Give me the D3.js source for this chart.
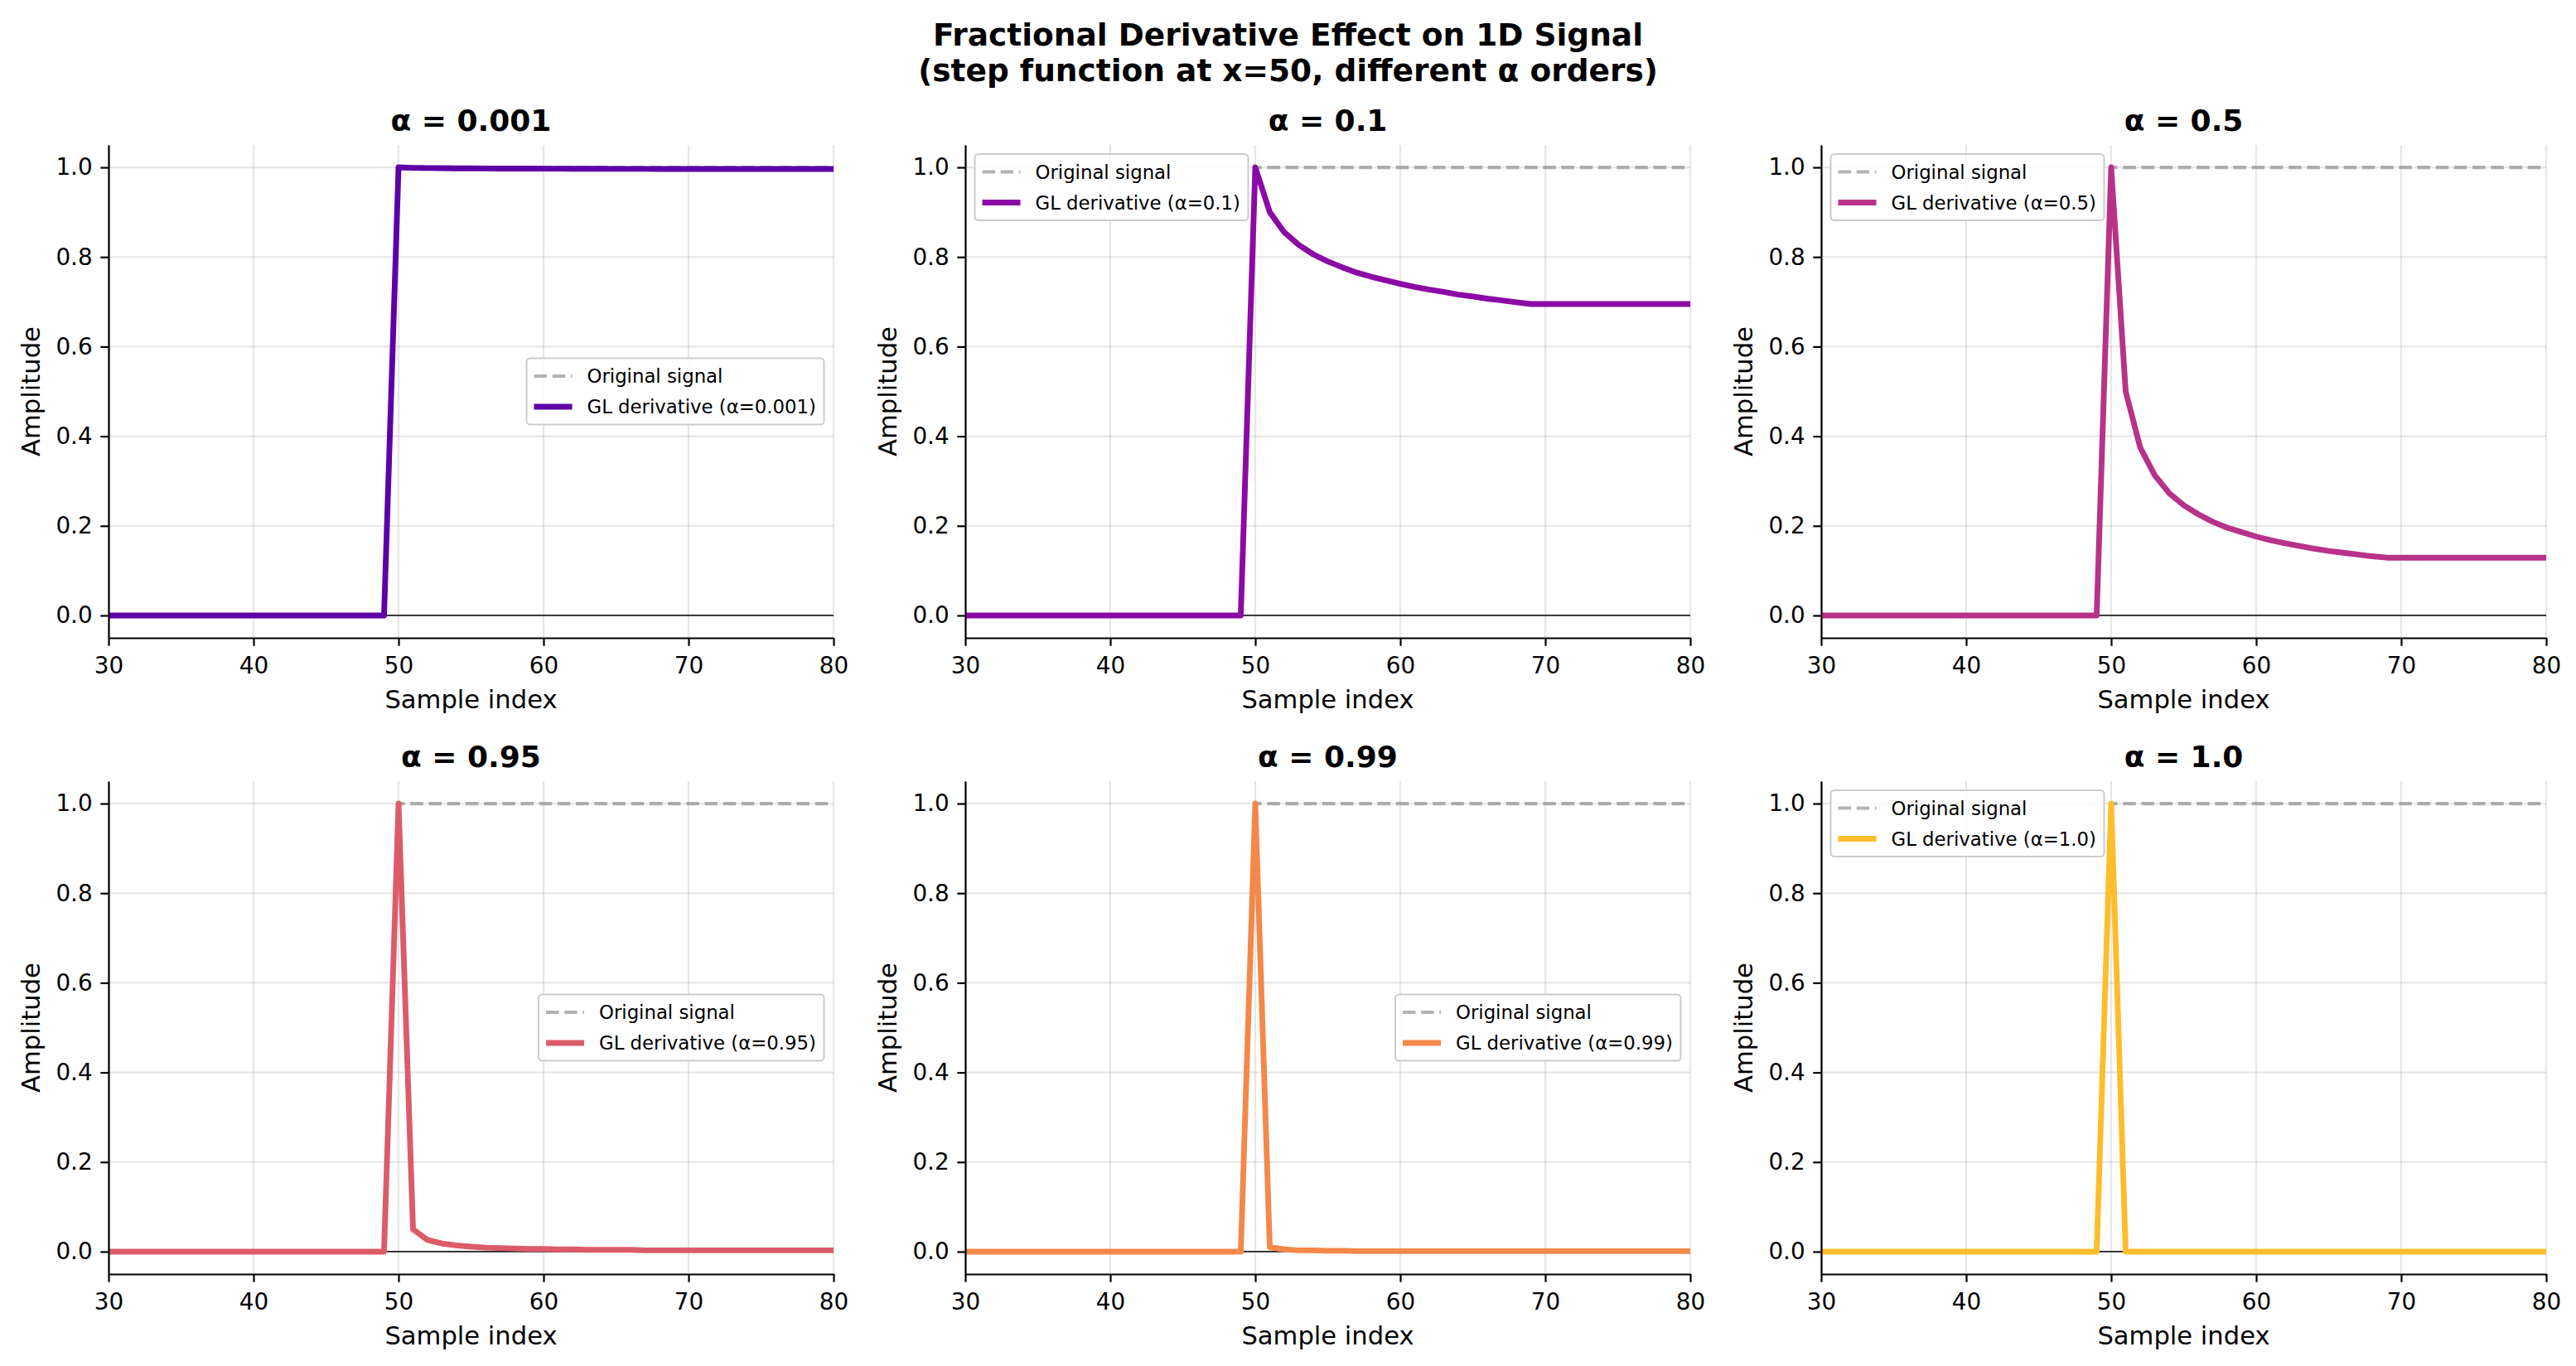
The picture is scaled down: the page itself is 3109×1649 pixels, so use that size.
<!DOCTYPE html>
<html>
<head>
<meta charset="utf-8">
<script src="https://cdn.jsdelivr.net/npm/d3@7"></script>
<style>
  body { margin: 0; background: #fff; }
  svg { display: block; font-family: "DejaVu Sans", sans-serif; }
</style>
</head>
<body>
<div id="chart"></div>
<script>
// Sample positions shown on the x axis (30..80)
const sampleIndex = [
  30, 31, 32, 33, 34, 35, 36, 37, 38, 39, 40, 41, 42, 43, 44, 45, 46, 47, 48, 49,
  50, 51, 52, 53, 54, 55, 56, 57, 58, 59, 60, 61, 62, 63, 64, 65, 66, 67, 68, 69,
  70, 71, 72, 73, 74, 75, 76, 77, 78, 79, 80
];

// Step input, switching on at x=50
const originalSignal = [
  0, 0, 0, 0, 0, 0, 0, 0, 0, 0, 0, 0, 0, 0, 0, 0, 0, 0, 0, 0,
  1, 1, 1, 1, 1, 1, 1, 1, 1, 1, 1, 1, 1, 1, 1, 1, 1, 1, 1, 1,
  1, 1, 1, 1, 1, 1, 1, 1, 1, 1, 1
];

// GL derivative output per order
const glAlpha0001 = [
  0, 0, 0, 0, 0, 0, 0, 0, 0, 0, 0, 0, 0, 0, 0, 0, 0, 0, 0, 0,
  1.0, 0.999, 0.9985, 0.9982, 0.9979, 0.9977, 0.9976, 0.9974, 0.9973, 0.9972,
  0.9971, 0.997, 0.9969, 0.9968, 0.9968, 0.9967, 0.9966, 0.9966, 0.9965, 0.9965,
  0.9965, 0.9965, 0.9965, 0.9965, 0.9965, 0.9965, 0.9965, 0.9965, 0.9965, 0.9965, 0.9965
];
const glAlpha01 = [
  0, 0, 0, 0, 0, 0, 0, 0, 0, 0, 0, 0, 0, 0, 0, 0, 0, 0, 0, 0,
  1.0, 0.9, 0.855, 0.827, 0.806, 0.79, 0.777, 0.765, 0.756, 0.748,
  0.74, 0.733, 0.727, 0.722, 0.716, 0.712, 0.707, 0.703, 0.699, 0.695,
  0.695, 0.695, 0.695, 0.695, 0.695, 0.695, 0.695, 0.695, 0.695, 0.695, 0.695
];
const glAlpha05 = [
  0, 0, 0, 0, 0, 0, 0, 0, 0, 0, 0, 0, 0, 0, 0, 0, 0, 0, 0, 0,
  1.0, 0.5, 0.375, 0.313, 0.273, 0.246, 0.226, 0.209, 0.196, 0.186,
  0.176, 0.168, 0.161, 0.155, 0.149, 0.144, 0.14, 0.136, 0.132, 0.129,
  0.129, 0.129, 0.129, 0.129, 0.129, 0.129, 0.129, 0.129, 0.129, 0.129, 0.129
];
const glAlpha095 = [
  0, 0, 0, 0, 0, 0, 0, 0, 0, 0, 0, 0, 0, 0, 0, 0, 0, 0, 0, 0,
  1.0, 0.05, 0.026, 0.018, 0.014, 0.011, 0.009, 0.008, 0.007, 0.006,
  0.006, 0.005, 0.005, 0.004, 0.004, 0.004, 0.004, 0.003, 0.003, 0.003,
  0.003, 0.003, 0.003, 0.003, 0.003, 0.003, 0.003, 0.003, 0.003, 0.003, 0.003
];
const glAlpha099 = [
  0, 0, 0, 0, 0, 0, 0, 0, 0, 0, 0, 0, 0, 0, 0, 0, 0, 0, 0, 0,
  1.0, 0.01, 0.005, 0.003, 0.003, 0.002, 0.002, 0.001, 0.001, 0.001,
  0.001, 0.001, 0.001, 0.001, 0.001, 0.001, 0.001, 0.001, 0.001, 0.001,
  0.001, 0.001, 0.001, 0.001, 0.001, 0.001, 0.001, 0.001, 0.001, 0.001, 0.001
];
const glAlpha1 = [
  0, 0, 0, 0, 0, 0, 0, 0, 0, 0, 0, 0, 0, 0, 0, 0, 0, 0, 0, 0,
  1.0, 0, 0, 0, 0, 0, 0, 0, 0, 0, 0, 0, 0, 0, 0, 0, 0, 0, 0, 0,
  0, 0, 0, 0, 0, 0, 0, 0, 0, 0, 0
];

const alphaLabels = ['0.001', '0.1', '0.5', '0.95', '0.99', '1.0'];
const glSeries = [glAlpha0001, glAlpha01, glAlpha05, glAlpha095, glAlpha099, glAlpha1];
const seriesColors = ['#5c01a6', '#8b0aa5', '#b83289', '#db5c68', '#f48849', '#febd2a'];
const legendLoc = ['center right', 'upper left', 'upper left', 'center right', 'center right', 'upper left'];

const xTicks = [30, 40, 50, 60, 70, 80];
const yTicks = [0.0, 0.2, 0.4, 0.6, 0.8, 1.0];

// Layout (pixels)
const W = 3109, H = 1649;
const colLeft = [131, 1165, 2198];
const rowTop = [175, 943];
const plotW = 875, plotH = 595;

const tickFont = 27.8, labelFont = 30.6, titleFont = 36, supFont = 37.5, legendFont = 22.8;

const svg = d3.select('#chart').append('svg')
  .attr('width', W)
  .attr('height', H);

svg.append('rect')
  .attr('width', W)
  .attr('height', H)
  .attr('fill', '#fff');

const defs = svg.append('defs');

// Figure title
svg.append('text')
  .attr('x', W / 2)
  .attr('y', 55)
  .attr('text-anchor', 'middle')
  .attr('font-size', supFont)
  .attr('font-weight', 'bold')
  .text('Fractional Derivative Effect on 1D Signal');

svg.append('text')
  .attr('x', W / 2)
  .attr('y', 98)
  .attr('text-anchor', 'middle')
  .attr('font-size', supFont)
  .attr('font-weight', 'bold')
  .text('(step function at x=50, different α orders)');

glSeries.forEach((values, i) => {
  const left = colLeft[i % 3];
  const top = rowTop[Math.floor(i / 3)];
  const color = seriesColors[i];

  const g = svg.append('g')
    .attr('transform', `translate(${left},${top})`);

  const x = d3.scaleLinear().domain([30, 80]).range([0, plotW]);
  const y = d3.scaleLinear().domain([-0.05, 1.05]).range([plotH, 0]);

  defs.append('clipPath')
    .attr('id', `clip-${i}`)
    .append('rect')
    .attr('width', plotW)
    .attr('height', plotH);

  // Grid
  g.append('g').selectAll('line')
    .data(xTicks)
    .join('line')
    .attr('x1', d => x(d)).attr('x2', d => x(d))
    .attr('y1', 0).attr('y2', plotH)
    .attr('stroke', '#b0b0b0')
    .attr('stroke-opacity', 0.3)
    .attr('stroke-width', 2.2);

  g.append('g').selectAll('line')
    .data(yTicks)
    .join('line')
    .attr('x1', 0).attr('x2', plotW)
    .attr('y1', d => y(d)).attr('y2', d => y(d))
    .attr('stroke', '#b0b0b0')
    .attr('stroke-opacity', 0.3)
    .attr('stroke-width', 2.2);

  // Zero line
  g.append('line')
    .attr('x1', 0).attr('x2', plotW)
    .attr('y1', y(0)).attr('y2', y(0))
    .attr('stroke', '#000')
    .attr('stroke-opacity', 0.85)
    .attr('stroke-width', 1.8);

  const plot = g.append('g').attr('clip-path', `url(#clip-${i})`);

  const line = d3.line()
    .x((d, j) => x(sampleIndex[j]))
    .y(d => y(d));

  // Original step signal (dashed)
  plot.append('path')
    .datum(originalSignal)
    .attr('d', line)
    .attr('fill', 'none')
    .attr('stroke', '#808080')
    .attr('stroke-opacity', 0.6)
    .attr('stroke-width', 4.2)
    .attr('stroke-dasharray', '15.5,6.7');

  // GL derivative
  plot.append('path')
    .datum(values)
    .attr('d', line)
    .attr('fill', 'none')
    .attr('stroke', color)
    .attr('stroke-width', 6.9)
    .attr('stroke-linejoin', 'round');

  // Add X axis
  const xAxis = g.append('g')
    .attr('transform', `translate(0,${plotH})`)
    .call(d3.axisBottom(x).tickValues(xTicks).tickFormat(d3.format('d'))
      .tickSize(9.7).tickSizeOuter(0).tickPadding(13.6));

  // Add Y axis
  const yAxis = g.append('g')
    .call(d3.axisLeft(y).tickValues(yTicks).tickFormat(d3.format('.1f'))
      .tickSize(9.7).tickSizeOuter(0).tickPadding(9.7));

  [xAxis, yAxis].forEach(ax => {
    ax.select('.domain').attr('stroke', '#000').attr('stroke-width', 2.2);
    ax.selectAll('.tick line').attr('stroke', '#000').attr('stroke-width', 2.2);
    ax.selectAll('.tick text')
      .attr('fill', '#000')
      .attr('font-size', tickFont)
      .attr('font-family', '"DejaVu Sans", sans-serif');
  });

  // Axis labels
  g.append('text')
    .attr('x', plotW / 2)
    .attr('y', plotH + 85)
    .attr('text-anchor', 'middle')
    .attr('font-size', labelFont)
    .text('Sample index');

  g.append('text')
    .attr('transform', `translate(-83,${plotH / 2}) rotate(-90)`)
    .attr('text-anchor', 'middle')
    .attr('font-size', labelFont)
    .text('Amplitude');

  // Panel title
  g.append('text')
    .attr('x', plotW / 2)
    .attr('y', -17)
    .attr('text-anchor', 'middle')
    .attr('font-size', titleFont)
    .attr('font-weight', 'bold')
    .text(`α = ${alphaLabels[i]}`);

  // Legend
  const legend = g.append('g');
  const box = legend.append('rect')
    .attr('rx', 4.5).attr('ry', 4.5)
    .attr('fill', '#fff')
    .attr('fill-opacity', 0.8)
    .attr('stroke', '#cccccc')
    .attr('stroke-width', 2);

  const items = [
    { name: 'Original signal', dashed: true },
    { name: `GL derivative (α=${alphaLabels[i]})`, dashed: false }
  ];

  let maxW = 0;
  items.forEach((item, k) => {
    const cy = 21.5 + k * 37;
    legend.append('line')
      .attr('x1', 9).attr('x2', 55)
      .attr('y1', cy).attr('y2', cy)
      .attr('stroke', item.dashed ? '#808080' : color)
      .attr('stroke-opacity', item.dashed ? 0.6 : 1)
      .attr('stroke-width', item.dashed ? 4.2 : 6.9)
      .attr('stroke-dasharray', item.dashed ? '15.5,6.7' : null);
    const t = legend.append('text')
      .attr('x', 73)
      .attr('y', cy + 8)
      .attr('font-size', legendFont)
      .attr('fill', '#000')
      .text(item.name);
    maxW = Math.max(maxW, t.node().getComputedTextLength());
  });

  const boxW = 73 + maxW + 9.5;
  const boxH = 80;
  box.attr('width', boxW).attr('height', boxH);

  let lx, ly;
  if (legendLoc[i] === 'upper left') {
    lx = 11.5;
    ly = 11;
  } else {
    lx = plotW - 11.5 - boxW;
    ly = plotH / 2 - boxH / 2;
  }
  legend.attr('transform', `translate(${lx},${ly})`);
});
</script>
</body>
</html>
